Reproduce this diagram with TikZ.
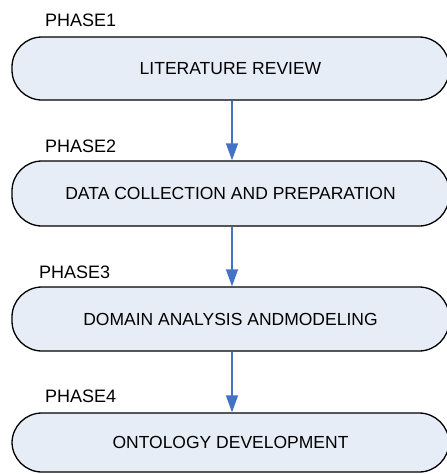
\documentclass[tikz,border=0pt]{standalone}
\usepackage{fontspec}
\setmainfont{Liberation Sans}
\usetikzlibrary{arrows.meta}
\definecolor{boxfill}{HTML}{E7EDF7}
\definecolor{arrowblue}{HTML}{4472C4}
\begin{document}
\begin{tikzpicture}[x=1pt,y=-1pt,
  phasebox/.style={draw=black, line width=1.3pt, fill=boxfill, rounded corners=30pt,
    minimum width=437pt, inner sep=0pt, font=\fontsize{17.5}{20}\selectfont},
  phaselabel/.style={anchor=base west, inner sep=0pt, font=\fontsize{18}{21}\selectfont},
  flow/.style={draw=arrowblue, line width=1.3pt, -{Triangle[length=17pt,width=12pt]}}]
\useasboundingbox (0,0) rectangle (447,474);
\begin{scope}
\clip (0,0) rectangle (447,474);
\node[phasebox, minimum height=63pt] (b1) at (230.5,68.5) {LITERATURE REVIEW};
\node[phasebox, minimum height=65pt] (b2) at (230.5,193.5) {DATA COLLECTION AND PREPARATION};
\node[phasebox, minimum height=64pt] (b3) at (230.5,319) {DOMAIN ANALYSIS ANDMODELING};
\node[phasebox, minimum height=59pt] (b4) at (230.5,442.5) {ONTOLOGY DEVELOPMENT};
\end{scope}
\node[phaselabel] (p1) at (45,26) {PHASE1};
\node[phaselabel] (p2) at (45,152) {PHASE2};
\node[phaselabel] (p3) at (39,278) {PHASE3};
\node[phaselabel] (p4) at (45,402) {PHASE4};
\draw[flow] ([xshift=1.5pt]b1.south) -- ([xshift=1.5pt]b2.north);
\draw[flow] ([xshift=1.5pt]b2.south) -- ([xshift=1.5pt]b3.north);
\draw[flow] ([xshift=1.5pt]b3.south) -- ([xshift=1.5pt]b4.north);
\end{tikzpicture}
\end{document}
